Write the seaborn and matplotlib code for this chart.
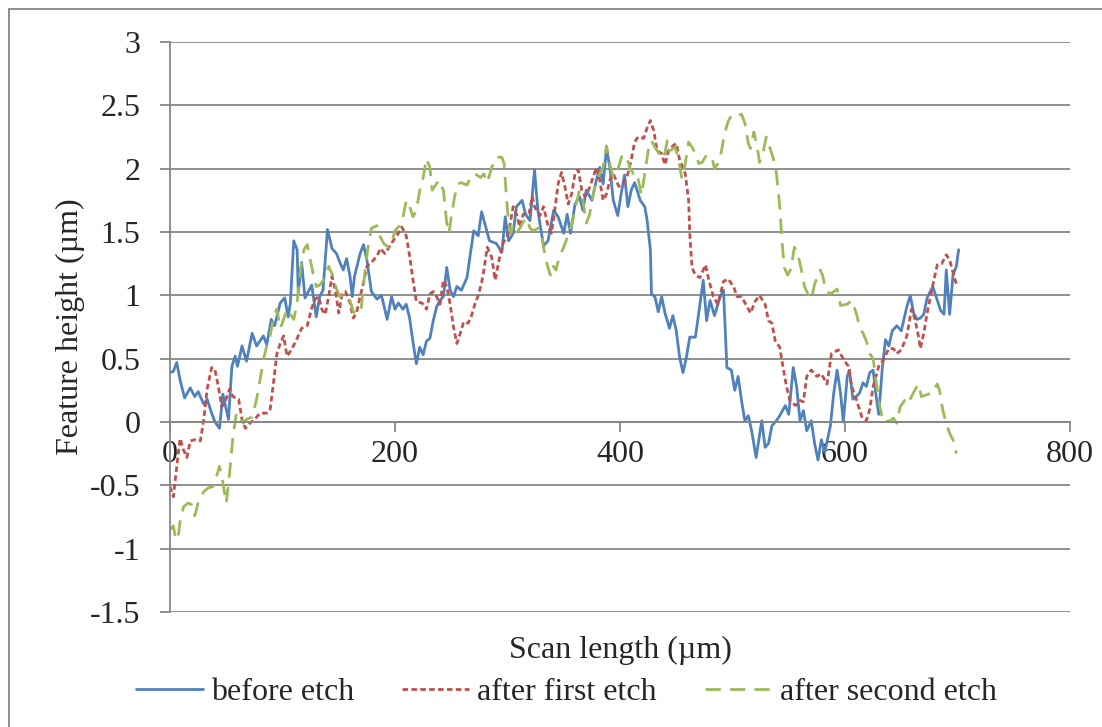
# Surface profile of a feature before and after etching (Excel-style line chart)

import seaborn as sns
import matplotlib.pyplot as plt
from matplotlib.lines import Line2D

# ---- data (scan length in um, height in um) ----
before_x = [0, 3, 6, 9, 13, 18, 22, 25, 30, 33, 37, 40, 44, 47, 52, 55, 58, 60, 64, 68,
            73, 77, 83, 86, 90, 93, 98, 102, 105, 107, 110, 113, 114, 117, 120, 126, 130, 133, 136, 140,
            144, 148, 151, 154, 157, 160, 162, 164, 169, 172, 175, 179, 184, 188, 193, 197, 200, 203, 207, 210,
            213, 216, 219, 222, 225, 228, 231, 234, 237, 240, 243, 246, 249, 252, 255, 259, 264, 267, 270, 274,
            277, 281, 284, 290, 295, 298, 301, 305, 308, 313, 316, 320, 324, 327, 332, 336, 341, 345, 350, 353,
            356, 360, 364, 367, 370, 375, 379, 382, 385, 388, 391, 394, 398, 401, 404, 407, 410, 413, 418, 422,
            424, 427, 428, 431, 434, 437, 440, 444, 447, 450, 453, 456, 459, 462, 467, 470, 474, 477, 480, 484,
            489, 492, 495, 499, 502, 505, 508, 511, 514, 517, 521, 526, 529, 532, 535, 539, 542, 547, 550, 554,
            557, 560, 563, 566, 570, 573, 576, 579, 582, 587, 590, 593, 596, 598.5, 602, 604, 607, 610, 613, 616,
            619, 622, 625, 628, 630, 633, 636, 639, 642, 646, 650, 655, 658, 661, 664, 667, 670, 673, 678, 682,
            685, 688, 690, 693, 696, 699, 701]
before_y = [0.39, 0.40, 0.47, 0.33, 0.19, 0.27, 0.20, 0.24, 0.14, 0.18, 0.07, 0.00, -0.05, 0.22, 0.02, 0.44, 0.52, 0.44, 0.60, 0.48,
            0.70, 0.60, 0.68, 0.61, 0.81, 0.76, 0.94, 0.98, 0.83, 0.94, 1.43, 1.36, 1.02, 1.26, 0.98, 1.08, 0.83, 0.99, 1.04, 1.52,
            1.37, 1.33, 1.26, 1.20, 1.29, 1.15, 0.99, 1.15, 1.33, 1.40, 1.28, 1.03, 0.97, 1.00, 0.81, 0.99, 0.89, 0.94, 0.89, 0.93,
            0.82, 0.63, 0.46, 0.59, 0.53, 0.64, 0.66, 0.80, 0.91, 0.96, 0.99, 1.22, 1.04, 0.99, 1.07, 1.04, 1.14, 1.33, 1.51, 1.47,
            1.66, 1.53, 1.43, 1.41, 1.34, 1.62, 1.43, 1.49, 1.70, 1.75, 1.64, 1.59, 1.99, 1.67, 1.39, 1.43, 1.67, 1.62, 1.49, 1.64,
            1.49, 1.72, 1.78, 1.67, 1.83, 1.75, 1.91, 2.01, 1.88, 2.16, 2.01, 1.75, 1.63, 1.80, 1.95, 1.70, 1.83, 1.89, 1.75, 1.70,
            1.60, 1.36, 1.01, 0.99, 0.87, 0.99, 0.86, 0.74, 0.84, 0.72, 0.51, 0.39, 0.51, 0.67, 0.67, 0.86, 1.12, 0.80, 0.96, 0.84,
            0.99, 1.04, 0.43, 0.41, 0.25, 0.36, 0.17, 0.01, 0.05, -0.07, -0.28, 0.01, -0.20, -0.17, -0.03, 0.01, 0.05, 0.13, 0.06, 0.43,
            0.28, 0.01, 0.09, -0.07, 0.01, -0.17, -0.30, -0.14, -0.24, -0.03, 0.23, 0.41, 0.23, 0.00, 0.36, 0.41, 0.18, 0.20, 0.23, 0.31,
            0.28, 0.39, 0.41, 0.18, 0.06, 0.41, 0.65, 0.60, 0.72, 0.76, 0.72, 0.91, 1.00, 0.86, 0.81, 0.82, 0.85, 0.98, 1.07, 0.96,
            0.88, 0.85, 1.20, 0.85, 1.16, 1.23, 1.36]

first_x = [0, 3, 6, 9, 12, 15, 18, 22, 27, 30, 33, 37, 40, 43, 46, 49, 53, 56, 61, 64,
           67, 71, 76, 80, 86, 89, 92, 95, 98, 101, 104, 108, 113, 117, 122, 126, 129, 132, 135, 138,
           141, 144, 147, 150, 153, 156, 160, 163, 166, 169, 172, 175, 179, 184, 187, 191, 194, 199, 203, 206,
           210, 213, 216, 219, 224, 228, 231, 234, 237, 240, 243, 246, 249, 252, 255, 258, 261, 265, 268, 271,
           274, 277, 279, 282, 286, 289, 293, 296, 301, 305, 308, 311, 314, 319, 322, 324, 329, 332, 336, 339,
           342, 345, 348, 351, 354, 357, 360, 363, 366, 369, 372, 376, 379, 382, 385, 388, 391, 394, 399, 403,
           407, 410, 413, 416, 421, 424, 427, 430, 433, 437, 440, 443, 447, 450, 453, 458, 461, 462, 464, 467,
           471, 476, 479, 483, 487, 492, 496, 501, 504, 508, 513, 516, 520, 524, 529, 532, 535, 538, 542, 545,
           548, 551, 556, 560, 563, 566, 570, 575, 579, 584, 588, 594, 599, 603, 606, 610, 615, 619, 622, 625,
           630, 634, 639, 643, 646, 650, 655, 659, 662, 665, 667, 670, 673, 676, 679, 682, 686, 690, 693, 696,
           699]
first_y = [-0.51, -0.59, -0.35, -0.13, -0.22, -0.28, -0.15, -0.14, -0.15, 0.02, 0.26, 0.43, 0.41, 0.28, 0.12, 0.16, 0.26, 0.20, 0.18, 0.02,
           -0.05, -0.01, 0.03, 0.07, 0.07, 0.10, 0.31, 0.54, 0.62, 0.68, 0.52, 0.57, 0.66, 0.74, 0.76, 0.90, 0.97, 0.99, 0.89, 0.85,
           0.99, 1.15, 1.04, 0.86, 1.01, 1.03, 0.94, 0.82, 0.87, 0.99, 1.10, 1.23, 1.26, 1.31, 1.37, 1.33, 1.37, 1.44, 1.49, 1.54,
           1.47, 1.31, 1.12, 0.95, 0.94, 0.89, 1.01, 1.03, 0.99, 0.93, 1.12, 1.07, 0.93, 0.75, 0.62, 0.70, 0.79, 0.78, 0.84, 0.93,
           1.00, 1.10, 1.20, 1.38, 1.30, 1.12, 1.30, 1.41, 1.49, 1.70, 1.64, 1.54, 1.64, 1.64, 1.78, 1.70, 1.63, 1.70, 1.55, 1.49,
           1.67, 1.88, 1.97, 1.86, 1.72, 1.80, 1.96, 1.99, 1.83, 1.78, 1.83, 1.93, 2.01, 1.91, 1.75, 1.80, 1.91, 1.96, 1.86, 1.88,
           1.96, 2.07, 2.21, 2.25, 2.24, 2.32, 2.38, 2.30, 2.14, 2.12, 2.03, 2.14, 2.18, 2.20, 2.07, 1.96, 1.75, 1.49, 1.22, 1.16,
           1.14, 1.24, 1.12, 0.99, 0.93, 1.11, 1.13, 1.07, 0.99, 0.99, 0.91, 0.86, 0.95, 1.00, 0.93, 0.80, 0.78, 0.64, 0.59, 0.43,
           0.28, 0.17, 0.13, 0.17, 0.16, 0.36, 0.41, 0.36, 0.38, 0.30, 0.54, 0.57, 0.49, 0.44, 0.28, 0.18, 0.04, 0.01, 0.10, 0.28,
           0.44, 0.49, 0.58, 0.58, 0.54, 0.57, 0.68, 0.89, 0.82, 0.69, 0.58, 0.70, 0.86, 0.99, 1.12, 1.24, 1.25, 1.32, 1.28, 1.18,
           1.09]

second_x = [0, 3, 4.5, 7, 9, 12, 16, 19, 22, 25, 30, 34, 38, 41, 44, 47, 50, 53, 56, 59,
            62, 65, 68, 73, 77, 80, 83, 86, 89, 92, 95, 98, 101, 104, 107, 110, 113, 116, 119, 122,
            124, 127, 130, 133, 138, 141, 145, 148, 151, 155, 160, 163, 166, 170, 173, 176, 179, 184, 187, 190,
            194, 197, 200, 204, 207, 210, 213, 216, 219, 222, 225, 228, 231, 233, 236, 239, 243, 246, 248, 250,
            253, 256, 259, 264, 267, 271, 276, 279, 282, 286, 290, 295, 297, 299, 301, 303, 305, 308, 311, 314,
            317, 320, 323, 327, 330, 332, 335, 338, 340, 343, 346, 349, 352, 355, 358, 361, 364, 367, 370, 373,
            376, 379, 382, 385, 388, 391, 394, 397, 402, 406, 409, 412, 415, 419, 422, 425, 428, 431, 436, 439,
            442, 444, 449, 452, 455, 458, 461, 464, 467, 470, 473, 477, 482, 484, 487, 490, 493, 496, 499, 502,
            505, 508, 511, 514, 516, 519, 522, 524, 527, 530, 533, 536, 539, 542, 544, 546, 549, 552, 555, 558,
            561, 564, 567, 570, 573, 578, 580, 583, 587, 593, 596, 602, 606, 610, 613, 616, 619, 622, 625, 628,
            631, 634, 640, 643, 646, 649, 653, 656, 659, 662, 665, 668, 671, 674, 677, 682, 684, 687, 690, 693,
            696, 699]
second_y = [-0.85, -0.82, -0.90, -0.93, -0.78, -0.67, -0.64, -0.65, -0.74, -0.64, -0.55, -0.52, -0.51, -0.44, -0.35, -0.48, -0.64, -0.40, -0.11, 0.07,
            0.04, -0.01, 0.02, 0.04, 0.18, 0.33, 0.49, 0.60, 0.68, 0.83, 0.89, 0.74, 0.81, 0.89, 0.85, 0.81, 0.94, 1.20, 1.36, 1.40,
            1.31, 1.18, 1.07, 1.08, 1.14, 1.23, 1.15, 1.05, 0.99, 1.01, 0.96, 0.87, 0.85, 0.90, 1.17, 1.38, 1.53, 1.55, 1.46, 1.41,
            1.38, 1.42, 1.51, 1.55, 1.61, 1.75, 1.70, 1.62, 1.67, 1.83, 1.93, 2.08, 2.01, 1.83, 1.87, 1.91, 1.83, 1.57, 1.49, 1.62,
            1.78, 1.88, 1.89, 1.87, 1.93, 1.96, 1.93, 1.96, 1.89, 2.01, 2.09, 2.09, 2.04, 1.78, 1.57, 1.49, 1.55, 1.49, 1.53, 1.58,
            1.61, 1.53, 1.51, 1.53, 1.49, 1.38, 1.25, 1.16, 1.24, 1.20, 1.30, 1.36, 1.43, 1.50, 1.59, 1.72, 1.83, 1.75, 1.57, 1.64,
            1.78, 1.91, 1.96, 2.01, 2.18, 2.04, 1.93, 1.96, 2.11, 2.09, 2.00, 1.96, 1.97, 1.79, 1.96, 2.14, 2.22, 2.17, 2.10, 2.08,
            2.22, 2.14, 2.17, 2.08, 1.92, 2.04, 2.21, 2.17, 2.12, 2.04, 2.05, 2.11, 2.08, 2.00, 2.04, 2.13, 2.28, 2.37, 2.42, 2.43,
            2.42, 2.43, 2.36, 2.20, 2.16, 2.29, 2.17, 2.05, 2.12, 2.25, 2.17, 2.09, 1.97, 1.70, 1.43, 1.22, 1.16, 1.21, 1.38, 1.33,
            1.21, 1.07, 1.01, 0.97, 1.09, 1.20, 1.16, 1.04, 1.01, 1.05, 0.92, 0.93, 0.96, 0.86, 0.75, 0.70, 0.64, 0.54, 0.50, 0.30,
            0.12, 0.00, 0.01, 0.03, -0.01, 0.12, 0.17, 0.14, 0.20, 0.25, 0.30, 0.20, 0.21, 0.22, 0.22, 0.30, 0.25, 0.09, -0.01, -0.09,
            -0.14, -0.25]

x_ticks = [0, 200, 400, 600, 800]
x_tick_labels = ['0', '200', '400', '600', '800']
y_ticks = [-1.5, -1, -0.5, 0, 0.5, 1, 1.5, 2, 2.5, 3]
y_tick_labels = ['-1.5', '-1', '-0.5', '0', '0.5', '1', '1.5', '2', '2.5', '3']

# ---- style ----
sns.set_style("white")
plt.rcParams['font.family'] = ['Liberation Serif', 'DejaVu Serif']
plt.rcParams['axes.unicode_minus'] = False

grey = '#868686'
fs = 23

fig = plt.figure(figsize=(11.02, 7.27), dpi=100)
ax = fig.add_axes([170 / 1102, 1 - 612 / 727, 900 / 1102, 570 / 727])

# three profiles
sns.lineplot(x=before_x, y=before_y, ax=ax, color='#4F81BD', linewidth=2.0,
             sort=False, estimator=None, label='before etch')
sns.lineplot(x=first_x, y=first_y, ax=ax, color='#C0504D', linewidth=2.0,
             sort=False, estimator=None, label='after first etch')
sns.lineplot(x=second_x, y=second_y, ax=ax, color='#9BBB59', linewidth=2.0,
             sort=False, estimator=None, label='after second etch')

lines = ax.get_lines()
lines[1].set_linestyle((0, (2.0, 1.2)))
lines[2].set_linestyle((0, (5.5, 3.3)))

# axes
ax.set_xlim(0, 800)
ax.set_ylim(-1.5, 3)
ax.set_xticks(x_ticks)
ax.set_xticklabels(x_tick_labels)
ax.set_yticks(y_ticks)
ax.set_yticklabels(y_tick_labels)

ax.yaxis.grid(True, color=grey, linewidth=1.3)
ax.xaxis.grid(False)
ax.set_axisbelow(True)

for side in ['top', 'right']:
    ax.spines[side].set_visible(False)
ax.spines['left'].set_color(grey)
ax.spines['left'].set_linewidth(1.3)
ax.spines['bottom'].set_position(('data', 0))
ax.spines['bottom'].set_color(grey)
ax.spines['bottom'].set_linewidth(1.3)

ax.tick_params(axis='y', direction='out', length=7.2, width=1.3, color=grey,
               pad=14, labelsize=fs, left=True)
ax.tick_params(axis='x', direction='out', length=7.2, width=1.3, color=grey,
               pad=6, labelsize=fs, bottom=True)

ax.set_xlabel('Scan length (µm)', fontsize=fs)
ax.xaxis.set_label_coords(0.5, -0.042)
ax.set_ylabel('Feature height (µm)', fontsize=fs)
ax.yaxis.set_label_coords(-0.094, 0.5)

# legend below the plot
handles, labels = ax.get_legend_handles_labels()
ax.legend_.remove()
fig.legend(handles, labels, loc='center', bbox_to_anchor=(0.514, 1 - 692 / 727),
           ncol=3, frameon=False, fontsize=fs, handlelength=2.1,
           handletextpad=0.25, columnspacing=1.5)

# chart-area border (left and top edges visible)
fig.add_artist(Line2D([9 / 1102, 9 / 1102], [0, 1 - 9 / 727],
                      transform=fig.transFigure, color=grey, linewidth=1.3))
fig.add_artist(Line2D([9 / 1102, 1], [1 - 9 / 727, 1 - 9 / 727],
                      transform=fig.transFigure, color=grey, linewidth=1.3))

fig.savefig('out.png', dpi=100)
